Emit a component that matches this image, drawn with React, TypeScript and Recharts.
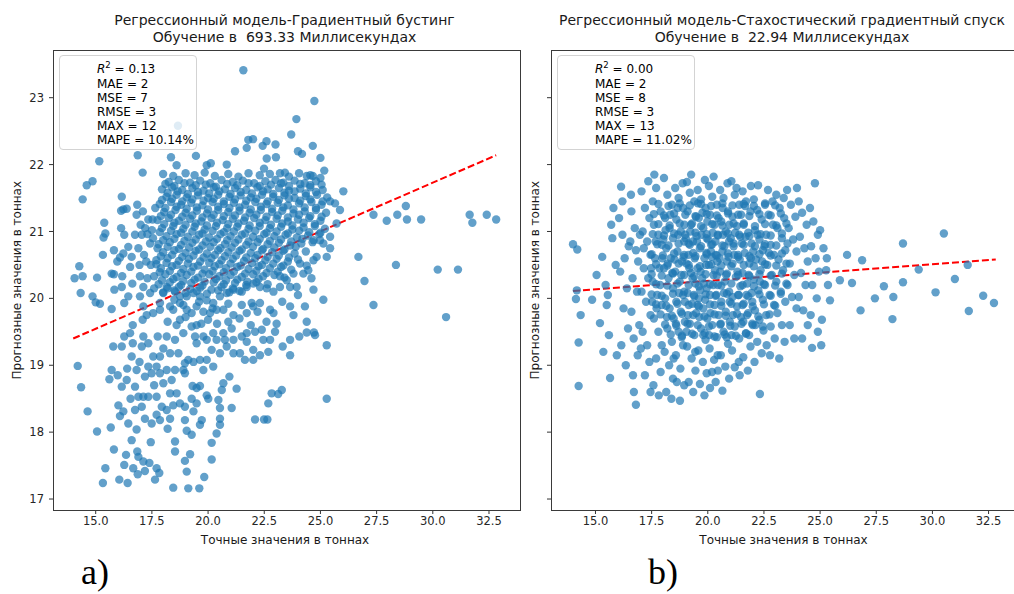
import React from "react"
import { ScatterChart, Scatter, XAxis, YAxis, ReferenceLine } from "recharts"

// axis ticks shared by both panels
const xTicks = [15, 17.5, 20, 22.5, 25, 27.5, 30, 32.5]
const yTicks = [17, 18, 19, 20, 21, 22, 23]

// gradient boosting: [true value, predicted value]
const gbTop = [
  [21.57, 23.41], [24.73, 22.95], [23.93, 22.68], [18.66, 22.58], [15.16, 22.05], [16.87, 22.14], [17.09, 21.88],
  [18.35, 22.11], [19.46, 22.13], [18.6, 21.99], [19.94, 21.99], [20.12, 22.02], [20.83, 22.0], [21.72, 22.25],
  [21.79, 22.37], [22.43, 22.28], [22.61, 22.09], [23.02, 22.11], [22.49, 21.94], [24.18, 22.16], [24.66, 22.28],
  [25.17, 21.91], [23.2, 21.87], [23.42, 21.88], [24.39, 21.83], [24.66, 21.83], [14.86, 21.75], [14.6, 21.69],
  [14.42, 21.48], [16.16, 21.52], [26.02, 21.6], [22.0, 22.38], [23.0, 22.3], [24.0, 22.2], [22.6, 22.35],
  [23.7, 22.45], [21.2, 22.2], [25.0, 22.1],
]

const gbLeftSide = [
  [15.38, 21.13], [15.43, 20.97], [15.35, 20.91], [15.32, 20.65], [15.81, 20.72], [16.08, 20.61], [14.27, 20.48],
  [14.06, 20.3], [14.42, 20.33], [14.33, 20.08], [14.86, 20.03], [15.06, 20.31], [15.0, 19.94], [15.19, 19.92],
  [15.71, 19.84], [15.83, 20.13], [15.71, 20.37], [16.13, 21.31], [16.23, 21.33], [16.38, 21.34], [16.82, 21.25],
  [17.34, 21.18], [17.53, 21.18], [16.13, 21.05], [16.27, 20.95], [16.75, 20.95], [17.05, 20.95], [17.3, 20.96],
  [17.42, 20.82], [16.45, 20.77], [16.23, 20.67], [16.6, 20.62], [15.96, 20.55], [15.81, 20.36], [16.18, 20.33],
  [16.53, 20.47], [16.63, 20.22], [16.27, 19.93], [16.45, 20.03], [16.16, 20.17], [16.97, 20.33], [16.97, 20.03],
  [17.12, 20.17], [17.42, 20.08], [17.12, 19.88], [17.27, 19.75], [17.56, 19.78], [17.86, 19.83], [17.86, 19.93],
  [17.2, 21.05], [17.55, 20.9], [17.15, 20.65], [17.45, 20.5], [17.3, 20.3], [17.6, 20.15], [16.9, 20.75],
  [17.0, 21.1], [17.65, 21.35], [16.95, 20.5], [17.25, 20.55], [17.5, 21.02], [16.85, 21.4], [17.1, 21.3],
]

const gbLowerLobe = [
  [14.2, 18.99], [14.35, 18.67], [14.64, 18.31], [15.06, 18.01], [15.67, 18.07], [15.81, 17.74], [15.43, 17.46],
  [15.32, 17.24], [16.05, 17.29], [16.42, 17.24], [16.35, 17.66], [16.85, 17.71], [16.9, 17.63], [16.27, 17.51],
  [16.67, 17.46], [17.12, 17.56], [17.39, 17.54], [17.19, 17.42], [17.71, 17.46], [17.83, 17.39], [17.64, 17.29],
  [16.87, 17.37], [15.78, 19.28], [16.16, 19.28], [16.27, 19.43], [16.53, 19.48], [16.65, 19.6], [17.09, 19.68],
  [17.12, 19.43], [16.65, 19.33], [16.6, 19.13], [17.05, 19.28], [17.34, 19.33], [17.56, 19.13], [17.76, 19.43],
  [18.16, 19.43], [18.53, 19.38], [15.71, 18.93], [15.61, 18.79], [15.98, 18.85], [16.16, 18.68], [16.38, 18.78],
  [16.82, 18.93], [16.75, 18.68], [16.9, 18.53], [17.12, 18.53], [17.34, 18.53], [17.71, 18.53], [17.05, 18.38],
  [16.75, 18.33], [16.23, 18.31], [16.01, 18.4], [16.08, 18.24], [16.45, 18.13], [16.82, 18.04], [17.19, 18.2],
  [17.49, 18.13], [17.71, 18.26], [17.94, 18.38], [18.16, 18.33], [18.45, 18.4], [18.75, 18.43], [18.6, 18.58],
  [18.31, 18.58], [18.01, 18.73], [17.86, 18.88], [17.71, 18.98], [18.16, 18.93], [18.38, 18.78], [18.53, 18.93],
  [18.9, 18.93], [18.97, 19.03], [18.68, 19.18], [18.31, 19.18], [18.01, 19.25], [17.86, 19.13], [17.34, 18.98],
  [17.19, 18.83], [17.49, 18.88], [17.86, 18.18], [18.31, 18.2], [18.53, 17.86], [18.53, 17.71], [18.45, 17.17],
  [19.12, 17.16], [19.61, 17.16], [19.05, 17.41], [19.83, 17.33], [19.2, 17.67], [18.97, 17.57], [20.16, 17.59],
  [20.16, 17.84], [19.27, 17.96], [19.05, 18.02], [19.64, 18.11], [19.72, 18.18], [18.97, 18.18], [19.35, 18.31],
  [19.49, 18.43], [19.27, 18.5], [18.97, 18.38], [19.94, 18.55], [19.64, 18.69], [19.31, 18.69], [19.49, 18.66],
  [20.01, 18.5], [20.46, 18.48], [20.53, 18.36], [20.53, 18.2], [20.38, 17.98], [21.05, 18.36], [20.53, 18.11],
  [20.61, 18.63], [20.95, 18.83], [21.27, 18.65], [20.68, 18.73], [20.23, 18.98], [19.79, 18.93], [19.94, 19.08],
  [19.64, 19.08], [19.35, 19.05], [19.12, 19.08], [18.97, 18.88], [22.68, 18.43], [22.83, 18.58], [23.28, 18.63],
  [23.12, 18.57], [22.09, 18.19], [22.49, 18.19], [22.64, 18.19], [25.28, 18.5],
  [16.4, 18.95], [16.95, 19.05], [17.6, 18.7], [16.55, 18.5], [18.2, 18.05], [16.6, 17.88], [17.45, 17.85],
]

const gbMiddle = [
  [19.49, 19.33], [19.42, 19.43], [19.79, 19.43], [20.23, 19.48], [19.94, 19.38], [20.38, 19.38], [20.16, 19.23],
  [20.53, 19.18], [20.83, 19.28], [21.13, 19.38], [21.13, 19.18], [20.75, 19.38], [21.5, 19.43], [21.72, 19.35],
  [22.01, 19.08], [21.64, 19.08], [21.42, 19.18], [22.01, 19.23], [22.31, 19.15], [22.46, 19.38], [22.76, 19.38],
  [22.68, 19.2], [22.39, 19.53], [22.09, 19.5], [21.72, 19.48], [21.05, 19.55], [20.68, 19.48], [18.9, 19.48],
  [18.75, 19.68], [19.27, 19.58], [19.49, 19.6], [25.28, 19.3], [23.65, 19.15], [23.32, 19.28], [23.65, 19.38],
  [24.06, 19.43], [24.39, 19.49], [24.71, 19.49], [24.76, 19.45], [24.39, 19.65], [23.8, 19.75], [23.65, 19.88],
  [24.31, 19.88], [24.69, 20.13], [25.13, 19.98], [22.98, 19.5], [22.91, 19.78], [22.76, 19.83], [22.31, 19.93],
  [21.94, 19.93], [22.01, 19.88], [21.72, 19.78], [21.13, 19.75], [20.68, 19.83], [20.38, 19.83], [20.09, 19.78],
  [19.79, 19.8], [19.49, 19.88], [19.27, 19.78], [19.05, 19.83], [18.75, 19.93], [18.45, 19.83], [18.31, 19.88],
  [18.01, 20.08], [18.16, 20.17], [18.53, 20.1], [18.75, 20.03], [19.05, 20.03], [19.35, 20.08], [19.64, 20.03],
  [19.94, 19.97], [20.23, 19.93], [20.53, 20.03], [20.83, 20.08], [21.13, 20.13], [21.5, 20.1], [21.72, 20.17],
  [22.01, 20.22], [22.31, 20.17], [22.61, 20.15], [22.91, 20.1], [23.2, 20.17], [23.65, 20.17], [23.94, 20.17],
  [23.5, 20.27], [23.2, 20.33], [23.8, 20.37], [24.24, 20.37], [24.46, 20.42], [24.39, 20.49], [24.09, 20.52],
  [24.69, 20.57], [24.83, 20.62], [25.28, 20.62], [25.43, 20.75], [25.13, 20.82], [24.98, 20.87], [25.43, 20.92],
  [25.72, 21.12], [25.87, 21.32], [25.65, 21.42], [25.43, 21.45],
  [18.2, 19.65], [18.6, 19.6], [19.0, 19.72], [19.7, 19.62], [20.0, 19.68], [20.4, 19.62], [20.9, 19.65],
  [21.4, 19.7], [21.9, 19.6], [18.9, 19.9], [19.6, 19.95], [20.2, 19.85], [20.9, 19.92], [21.5, 19.9],
  [22.2, 19.8], [18.5, 19.98], [22.6, 19.65], [23.3, 19.95], [24.0, 20.05], [23.05, 19.62], [24.6, 20.3],
]

const gbCore = [
  [18.0, 21.86], [18.45, 21.83], [19.0, 21.87], [19.4, 21.84], [19.85, 21.88], [20.3, 21.83], [20.9, 21.86], [21.35, 21.82],
  [21.8, 21.87], [22.3, 21.84], [22.75, 21.86], [23.6, 21.82], [24.05, 21.87], [24.55, 21.84], [25.0, 21.8],
  [18.25, 21.74], [18.7, 21.77], [19.2, 21.73], [19.65, 21.76], [20.1, 21.72], [20.6, 21.77], [21.1, 21.74], [21.55, 21.76],
  [22.05, 21.72], [22.55, 21.75], [23.0, 21.77], [23.35, 21.73], [23.85, 21.76], [24.3, 21.72], [24.8, 21.75],
  [17.95, 21.63], [18.4, 21.66], [18.85, 21.62], [19.3, 21.65], [19.8, 21.61], [20.25, 21.66], [20.75, 21.63], [21.2, 21.65],
  [21.7, 21.62], [22.2, 21.66], [22.65, 21.63], [23.15, 21.65], [23.6, 21.61], [24.1, 21.64], [24.55, 21.66], [25.1, 21.62],
  [18.15, 21.52], [18.6, 21.55], [19.05, 21.51], [19.55, 21.54], [20.0, 21.5], [20.45, 21.55], [20.95, 21.52], [21.45, 21.54],
  [21.9, 21.51], [22.4, 21.55], [22.9, 21.52], [23.4, 21.54], [23.85, 21.5], [24.35, 21.53], [24.85, 21.55], [25.3, 21.51],
  [17.85, 21.41], [18.35, 21.44], [18.8, 21.4], [19.25, 21.43], [19.75, 21.39], [20.2, 21.44], [20.7, 21.41], [21.15, 21.43],
  [21.65, 21.4], [22.1, 21.44], [22.6, 21.41], [23.1, 21.43], [23.55, 21.39], [24.05, 21.42], [24.6, 21.44], [25.05, 21.4],
  [18.05, 21.29], [18.55, 21.32], [19.0, 21.28], [19.5, 21.31], [19.95, 21.27], [20.45, 21.32], [20.9, 21.29], [21.4, 21.31],
  [21.85, 21.28], [22.35, 21.32], [22.85, 21.29], [23.3, 21.31], [23.8, 21.27], [24.3, 21.3], [24.8, 21.32], [25.25, 21.28],
  [17.75, 21.17], [18.25, 21.2], [18.7, 21.16], [19.2, 21.19], [19.7, 21.15], [20.15, 21.2], [20.65, 21.17], [21.1, 21.19],
  [21.6, 21.16], [22.05, 21.2], [22.55, 21.17], [23.05, 21.19], [23.55, 21.15], [24.0, 21.18], [24.5, 21.2], [25.0, 21.16],
  [17.95, 21.05], [18.45, 21.08], [18.9, 21.04], [19.4, 21.07], [19.85, 21.03], [20.35, 21.08], [20.85, 21.05], [21.3, 21.07],
  [21.8, 21.04], [22.3, 21.08], [22.75, 21.05], [23.25, 21.07], [23.75, 21.03], [24.25, 21.06], [24.75, 21.08], [25.2, 21.04],
  [18.15, 20.93], [18.6, 20.96], [19.1, 20.92], [19.6, 20.95], [20.05, 20.91], [20.55, 20.96], [21.0, 20.93], [21.5, 20.95],
  [22.0, 20.92], [22.5, 20.96], [22.95, 20.93], [23.45, 20.95], [23.95, 20.91], [24.45, 20.94], [24.95, 20.96],
  [17.8, 20.81], [18.3, 20.84], [18.8, 20.8], [19.3, 20.83], [19.75, 20.79], [20.25, 20.84], [20.75, 20.81], [21.2, 20.83],
  [21.7, 20.8], [22.2, 20.84], [22.65, 20.81], [23.15, 20.83], [23.65, 20.79], [24.15, 20.82], [24.65, 20.84],
  [18.0, 20.69], [18.5, 20.72], [19.0, 20.68], [19.45, 20.71], [19.95, 20.67], [20.45, 20.72], [20.9, 20.69], [21.4, 20.71],
  [21.9, 20.68], [22.4, 20.72], [22.85, 20.69], [23.35, 20.71], [23.85, 20.67], [24.35, 20.7],
  [17.7, 20.57], [18.2, 20.6], [18.7, 20.56], [19.15, 20.59], [19.65, 20.55], [20.15, 20.6], [20.6, 20.57], [21.1, 20.59],
  [21.6, 20.56], [22.1, 20.6], [22.55, 20.57], [23.05, 20.59], [23.55, 20.55], [24.0, 20.58],
  [17.9, 20.45], [18.4, 20.48], [18.9, 20.44], [19.35, 20.47], [19.85, 20.43], [20.3, 20.48], [20.8, 20.45], [21.3, 20.47],
  [21.8, 20.44], [22.25, 20.48], [22.75, 20.45], [23.25, 20.47], [23.7, 20.43],
  [17.6, 20.33], [18.1, 20.36], [18.6, 20.32], [19.05, 20.35], [19.55, 20.31], [20.05, 20.36], [20.5, 20.33], [21.0, 20.35],
  [21.5, 20.32], [22.0, 20.36], [22.45, 20.33], [22.95, 20.35], [23.4, 20.31],
  [17.8, 20.21], [18.3, 20.24], [18.8, 20.2], [19.25, 20.23], [19.75, 20.19], [20.25, 20.24], [20.7, 20.21], [21.2, 20.23],
  [21.7, 20.2], [22.15, 20.24], [22.65, 20.21],
  [18.0, 20.09], [18.5, 20.12], [19.0, 20.08], [19.5, 20.11], [19.95, 20.07], [20.45, 20.12], [20.95, 20.09], [21.4, 20.11],
]

// second, staggered layer of the solid upper core
const gbCoreFill = [
  [18.1, 21.71], [18.5, 21.68], [18.95, 21.72], [19.45, 21.69], [19.9, 21.7], [20.35, 21.67], [20.85, 21.71], [21.3, 21.69],
  [21.8, 21.72], [22.3, 21.68], [22.8, 21.7], [23.25, 21.72], [23.6, 21.68], [24.1, 21.71], [24.55, 21.69], [25.05, 21.7],
  [18.2, 21.58], [18.65, 21.6], [19.1, 21.56], [19.55, 21.59], [20.05, 21.57], [20.5, 21.6], [21.0, 21.56], [21.45, 21.59],
  [21.95, 21.57], [22.45, 21.6], [22.9, 21.56], [23.4, 21.58], [23.85, 21.6], [24.35, 21.57], [24.8, 21.59],
  [17.95, 21.47], [18.4, 21.49], [18.85, 21.45], [19.3, 21.48], [19.8, 21.46], [20.25, 21.49], [20.7, 21.45], [21.2, 21.48],
  [21.7, 21.46], [22.15, 21.49], [22.65, 21.45], [23.15, 21.47], [23.6, 21.49], [24.1, 21.46], [24.55, 21.48], [25.1, 21.45],
  [18.1, 21.35], [18.6, 21.37], [19.05, 21.34], [19.5, 21.36], [20.0, 21.33], [20.45, 21.37], [20.95, 21.35], [21.4, 21.36],
  [21.9, 21.33], [22.35, 21.37], [22.85, 21.34], [23.35, 21.36], [23.8, 21.33], [24.3, 21.36], [24.8, 21.35],
  [17.9, 21.23], [18.35, 21.25], [18.85, 21.22], [19.3, 21.24], [19.75, 21.21], [20.25, 21.25], [20.7, 21.23], [21.2, 21.24],
  [21.65, 21.21], [22.15, 21.25], [22.6, 21.22], [23.1, 21.24], [23.55, 21.21], [24.05, 21.25], [24.55, 21.23], [25.05, 21.22],
  [18.05, 21.11], [18.5, 21.13], [19.0, 21.1], [19.45, 21.12], [19.95, 21.09], [20.4, 21.13], [20.9, 21.11], [21.35, 21.12],
  [21.85, 21.09], [22.3, 21.13], [22.8, 21.1], [23.3, 21.12], [23.75, 21.09], [24.25, 21.13], [24.75, 21.11],
  [17.85, 20.99], [18.35, 21.01], [18.8, 20.98], [19.3, 21.0], [19.75, 20.97], [20.2, 21.01], [20.7, 20.99], [21.15, 21.0],
  [21.65, 20.97], [22.1, 21.01], [22.6, 20.98], [23.05, 21.0], [23.55, 20.97], [24.05, 21.01], [24.5, 20.99], [25.0, 20.98],
  [18.0, 20.87], [18.5, 20.89], [18.95, 20.86], [19.45, 20.88], [19.9, 20.85], [20.4, 20.89], [20.85, 20.87], [21.35, 20.88],
  [21.8, 20.85], [22.3, 20.89], [22.75, 20.86], [23.25, 20.88], [23.7, 20.85], [24.2, 20.89], [24.7, 20.87],
  [17.75, 20.75], [18.2, 20.77], [18.7, 20.74], [19.15, 20.76], [19.6, 20.73], [20.1, 20.77], [20.55, 20.75], [21.05, 20.76],
  [21.5, 20.73], [22.0, 20.77], [22.45, 20.74], [22.95, 20.76], [23.4, 20.73], [23.9, 20.77],
  [17.9, 20.63], [18.4, 20.65], [18.85, 20.62], [19.35, 20.64], [19.8, 20.61], [20.3, 20.65], [20.75, 20.63], [21.25, 20.64],
  [21.7, 20.61], [22.2, 20.65], [22.65, 20.62], [23.15, 20.64], [23.6, 20.61],
  [17.7, 20.51], [18.15, 20.53], [18.6, 20.5], [19.1, 20.52], [19.55, 20.49], [20.05, 20.53], [20.5, 20.51], [21.0, 20.52],
  [21.45, 20.49], [21.95, 20.53], [22.4, 20.5], [22.9, 20.52], [23.35, 20.49],
  [17.85, 20.39], [18.3, 20.41], [18.8, 20.38], [19.25, 20.4], [19.75, 20.37], [20.2, 20.41], [20.7, 20.39], [21.15, 20.4],
  [21.65, 20.37], [22.15, 20.41], [22.6, 20.38], [23.1, 20.4],
  [17.95, 20.27], [18.45, 20.29], [18.9, 20.26], [19.4, 20.28], [19.85, 20.25], [20.35, 20.29], [20.8, 20.27], [21.3, 20.28],
  [21.75, 20.25], [22.25, 20.29],
  [18.2, 20.15], [18.7, 20.17], [19.2, 20.14], [19.65, 20.16], [20.15, 20.13], [20.6, 20.17], [21.1, 20.15],
]

const gbTail = [
  [27.95, 21.16], [28.42, 21.25], [28.8, 21.38], [28.85, 21.18], [29.48, 21.18], [28.36, 20.5], [30.22, 20.43],
  [31.12, 20.43], [30.59, 19.72], [31.64, 21.25], [31.76, 21.13], [32.4, 21.25], [32.82, 21.18], [26.69, 20.62],
  [26.96, 20.26], [27.36, 19.9], [27.36, 21.25],
]

// stochastic gradient descent: [true value, predicted value]
const sgdLeftSide = [
  [14.0, 20.81], [14.19, 20.73], [14.17, 20.12], [14.13, 19.99], [14.34, 19.75], [14.25, 19.34], [14.25, 18.69],
  [14.85, 19.98], [15.2, 19.63], [15.05, 20.35], [15.3, 20.62], [15.45, 20.2], [15.6, 19.45], [15.65, 18.81],
  [15.5, 19.9], [15.75, 20.9], [15.8, 21.35], [15.35, 19.2], [15.9, 20.5], [15.95, 19.15], [15.7, 21.1], [15.55, 20.05],
  [16.14, 21.67], [16.05, 21.2], [16.2, 20.95], [16.3, 20.6], [16.1, 20.4], [16.4, 20.15], [16.25, 19.85], [16.45, 19.55],
  [16.15, 19.3], [16.35, 19.0], [16.2, 21.45], [16.48, 20.78],
  [16.67, 18.85], [16.71, 18.6], [16.8, 18.41], [16.6, 21.3], [16.75, 21.05], [16.55, 20.85], [16.9, 20.55], [16.65, 20.3],
  [16.85, 20.1], [16.6, 19.8], [16.95, 19.6], [16.7, 19.4], [16.88, 19.15], [16.58, 21.55], [16.8, 20.72], [16.98, 20.95],
]

const sgdBlob = [
  [17.05, 21.6], [17.2, 21.35], [17.4, 21.2], [17.1, 21.0], [17.3, 20.85], [17.45, 20.65], [17.15, 20.45], [17.35, 20.3],
  [17.05, 20.1], [17.25, 19.95], [17.45, 19.75], [17.1, 19.5], [17.3, 19.3], [17.4, 19.05], [17.2, 18.85], [17.45, 18.6],
  [17.35, 21.75], [17.15, 20.75], [17.48, 20.45], [17.02, 19.25],
  [17.55, 21.45], [17.7, 21.65], [17.9, 21.3], [17.6, 21.1], [17.8, 20.95], [17.95, 20.8], [17.65, 20.6], [17.85, 20.45],
  [17.55, 20.25], [17.75, 20.05], [17.95, 19.9], [17.6, 19.7], [17.8, 19.5], [17.95, 19.3], [17.7, 19.1], [17.9, 18.9],
  [17.58, 18.7], [17.82, 18.55], [17.68, 20.85], [17.88, 20.2], [17.52, 19.95], [17.98, 20.6], [17.72, 19.85], [17.62, 21.85],
  [18.05, 21.8], [18.2, 21.55], [18.4, 21.4], [18.1, 21.2], [18.3, 21.05], [18.45, 20.9], [18.15, 20.75], [18.35, 20.6],
  [18.05, 20.45], [18.25, 20.3], [18.45, 20.15], [18.1, 20.0], [18.3, 19.85], [18.48, 19.7], [18.2, 19.55], [18.4, 19.35],
  [18.08, 19.2], [18.28, 19.0], [18.45, 18.8], [18.15, 18.6], [18.38, 18.5], [18.22, 20.52], [18.42, 20.38], [18.02, 20.88],
  [18.33, 21.25], [18.18, 19.72], [18.48, 19.1], [18.12, 21.02],
  [18.55, 21.65], [18.7, 21.5], [18.9, 21.35], [18.6, 21.18], [18.8, 21.0], [18.95, 20.85], [18.65, 20.7], [18.85, 20.55],
  [18.55, 20.4], [18.75, 20.25], [18.95, 20.1], [18.6, 19.95], [18.8, 19.8], [18.98, 19.65], [18.7, 19.5], [18.9, 19.3],
  [18.58, 19.15], [18.78, 18.95], [18.76, 18.47], [18.95, 18.7], [18.62, 18.75], [18.88, 21.72], [18.68, 20.95], [18.92, 20.62],
  [18.52, 20.58], [18.82, 20.35], [18.72, 20.08], [18.98, 19.95], [18.58, 19.62], [18.84, 19.42], [18.66, 21.35], [18.96, 21.1],
  [19.07, 21.74], [19.2, 21.58], [19.4, 21.45], [19.1, 21.3], [19.3, 21.12], [19.45, 20.98], [19.15, 20.82], [19.35, 20.68],
  [19.05, 20.52], [19.25, 20.38], [19.45, 20.22], [19.1, 20.08], [19.3, 19.92], [19.48, 19.78], [19.2, 19.62], [19.4, 19.45],
  [19.08, 19.28], [19.28, 19.1], [19.45, 18.92], [19.15, 18.75], [19.35, 18.6], [19.22, 21.0], [19.42, 20.6], [19.02, 20.9],
  [19.32, 20.3], [19.12, 19.75], [19.38, 20.05], [19.18, 20.45], [19.48, 21.22], [19.26, 21.85], [19.05, 19.5], [19.44, 19.2],
  [19.14, 20.65], [19.34, 20.85],
  [19.87, 21.77], [19.55, 21.62], [19.7, 21.48], [19.9, 21.35], [19.6, 21.2], [19.8, 21.05], [19.95, 20.9], [19.65, 20.75],
  [19.85, 20.6], [19.55, 20.45], [19.75, 20.3], [19.95, 20.15], [19.6, 20.0], [19.8, 19.85], [19.98, 19.7], [19.7, 19.55],
  [19.9, 19.38], [19.58, 19.22], [19.78, 19.05], [19.95, 18.88], [19.65, 18.72], [19.85, 18.55], [19.72, 20.95], [19.92, 20.5],
  [19.52, 20.85], [19.82, 20.22], [19.62, 19.72], [19.88, 19.98], [19.68, 20.4], [19.98, 21.15], [19.76, 21.28], [19.56, 21.42],
  [19.94, 20.68], [19.66, 20.12], [19.86, 19.48], [19.54, 19.9],
  [20.1, 18.66], [20.19, 18.9], [20.05, 21.68], [20.2, 21.52], [20.4, 21.4], [20.1, 21.25], [20.3, 21.1], [20.45, 20.95],
  [20.15, 20.8], [20.35, 20.65], [20.05, 20.5], [20.25, 20.35], [20.45, 20.2], [20.1, 20.05], [20.3, 19.9], [20.48, 19.75],
  [20.2, 19.6], [20.4, 19.42], [20.08, 19.25], [20.28, 19.08], [20.45, 18.92], [20.35, 18.75], [20.22, 20.98], [20.42, 20.55],
  [20.02, 20.88], [20.32, 20.42], [20.12, 19.78], [20.38, 20.05], [20.18, 20.62], [20.48, 21.2], [20.26, 21.82], [20.06, 19.45],
  [20.44, 19.15], [20.14, 20.7], [20.34, 20.85], [20.24, 20.2],
  [20.55, 21.62], [20.7, 21.5], [20.9, 21.3], [20.6, 21.15], [20.8, 21.0], [20.95, 20.85], [20.65, 20.7], [20.85, 20.55],
  [20.55, 20.4], [20.75, 20.25], [20.95, 20.1], [20.6, 19.95], [20.8, 19.8], [20.98, 19.65], [20.7, 19.5], [20.9, 19.32],
  [20.58, 19.15], [20.78, 18.98], [20.95, 18.8], [20.65, 18.62], [20.88, 21.72], [20.68, 20.95], [20.92, 20.62], [20.52, 20.6],
  [20.82, 20.35], [20.72, 20.08], [20.98, 19.95], [20.58, 19.62], [20.84, 19.42], [20.66, 21.35], [20.96, 21.1], [20.74, 20.78],
  [21.05, 21.75], [21.2, 21.55], [21.4, 21.4], [21.1, 21.22], [21.3, 21.08], [21.45, 20.92], [21.15, 20.78], [21.35, 20.62],
  [21.05, 20.48], [21.25, 20.32], [21.45, 20.18], [21.1, 20.02], [21.3, 19.88], [21.48, 19.72], [21.2, 19.58], [21.4, 19.4],
  [21.08, 19.22], [21.2, 18.97], [21.38, 19.05], [21.42, 18.85], [21.22, 20.98], [21.42, 20.58], [21.02, 20.9], [21.32, 20.4],
  [21.12, 19.75], [21.38, 20.05], [21.18, 20.65], [21.48, 21.25], [21.28, 21.65], [21.06, 19.45],
  [21.55, 21.6], [21.7, 21.45], [21.9, 21.3], [21.6, 21.12], [21.8, 20.98], [21.95, 20.82], [21.65, 20.68], [21.85, 20.52],
  [21.55, 20.38], [21.75, 20.22], [21.95, 20.08], [21.6, 19.92], [21.8, 19.78], [21.98, 19.62], [21.7, 19.48], [21.9, 19.28],
  [21.58, 19.12], [21.78, 18.92], [21.92, 21.68], [21.68, 20.92], [21.92, 20.6], [21.52, 20.82], [21.82, 20.35], [21.72, 20.05],
  [21.98, 19.95], [21.58, 19.65], [21.84, 19.45], [21.66, 21.38],
  [22.24, 21.69], [22.05, 21.48], [22.2, 21.32], [22.4, 21.18], [22.1, 21.02], [22.3, 20.88], [22.45, 20.72], [22.15, 20.58],
  [22.35, 20.42], [22.05, 20.28], [22.25, 20.12], [22.45, 19.98], [22.1, 19.82], [22.3, 19.68], [22.48, 19.52], [22.2, 19.35],
  [22.4, 19.18], [22.32, 18.57], [22.08, 19.05], [22.22, 20.95], [22.42, 20.55], [22.02, 20.7], [22.32, 20.25], [22.12, 19.6],
  [22.68, 21.62], [22.55, 21.4], [22.7, 21.25], [22.9, 21.1], [22.6, 20.95], [22.8, 20.8], [22.95, 20.65], [22.65, 20.5],
  [22.85, 20.35], [22.55, 20.2], [22.75, 20.05], [22.95, 19.9], [22.6, 19.75], [22.8, 19.58], [22.98, 19.4], [22.77, 19.15],
  [22.62, 19.3], [22.88, 21.45], [22.72, 20.68], [22.52, 20.78],
]

// second, staggered layer of the solid centre of the blob
const sgdBlobFill = [
  [17.8, 21.41], [18.25, 21.38], [18.75, 21.42], [19.2, 21.39], [19.7, 21.41], [20.15, 21.38], [20.65, 21.42], [21.1, 21.39],
  [21.6, 21.41], [22.05, 21.38], [22.55, 21.42], [23.0, 21.39],
  [17.6, 21.26], [18.05, 21.24], [18.5, 21.27], [19.0, 21.25], [19.45, 21.23], [19.95, 21.26], [20.4, 21.24], [20.9, 21.27],
  [21.35, 21.25], [21.85, 21.23], [22.3, 21.26], [22.8, 21.24], [23.25, 21.27],
  [17.8, 21.11], [18.3, 21.09], [18.75, 21.12], [19.25, 21.1], [19.7, 21.08], [20.2, 21.11], [20.65, 21.09], [21.15, 21.12],
  [21.6, 21.1], [22.1, 21.08], [22.55, 21.11], [23.05, 21.09], [23.5, 21.12],
  [17.55, 20.96], [18.05, 20.94], [18.5, 20.97], [19.0, 20.95], [19.5, 20.93], [19.95, 20.96], [20.45, 20.94], [20.9, 20.97],
  [21.4, 20.95], [21.85, 20.93], [22.35, 20.96], [22.8, 20.94], [23.3, 20.97],
  [17.75, 20.81], [18.25, 20.79], [18.7, 20.82], [19.2, 20.8], [19.7, 20.78], [20.2, 20.81], [20.65, 20.79], [21.15, 20.82],
  [21.6, 20.8], [22.1, 20.78], [22.55, 20.81], [23.05, 20.79], [23.55, 20.82],
  [17.5, 20.66], [18.0, 20.64], [18.5, 20.67], [18.95, 20.65], [19.45, 20.63], [19.95, 20.66], [20.4, 20.64], [20.9, 20.67],
  [21.35, 20.65], [21.85, 20.63], [22.3, 20.66], [22.8, 20.64], [23.3, 20.67],
  [17.7, 20.51], [18.2, 20.49], [18.7, 20.52], [19.15, 20.5], [19.65, 20.48], [20.15, 20.51], [20.6, 20.49], [21.1, 20.52],
  [21.6, 20.5], [22.05, 20.48], [22.55, 20.51], [23.05, 20.49], [23.5, 20.52],
  [17.5, 20.36], [17.95, 20.34], [18.45, 20.37], [18.95, 20.35], [19.4, 20.33], [19.9, 20.36], [20.4, 20.34], [20.85, 20.37],
  [21.35, 20.35], [21.85, 20.33], [22.3, 20.36], [22.8, 20.34], [23.3, 20.37],
  [17.7, 20.21], [18.2, 20.19], [18.65, 20.22], [19.15, 20.2], [19.6, 20.18], [20.1, 20.21], [20.6, 20.19], [21.05, 20.22],
  [21.55, 20.2], [22.05, 20.18], [22.5, 20.21], [23.0, 20.19], [23.5, 20.22],
  [17.5, 20.06], [17.95, 20.04], [18.45, 20.07], [18.9, 20.05], [19.4, 20.03], [19.9, 20.06], [20.35, 20.04], [20.85, 20.07],
  [21.35, 20.05], [21.8, 20.03], [22.3, 20.06], [22.8, 20.04], [23.25, 20.07],
  [17.7, 19.91], [18.15, 19.89], [18.65, 19.92], [19.15, 19.9], [19.6, 19.88], [20.1, 19.91], [20.6, 19.89], [21.05, 19.92],
  [21.55, 19.9], [22.0, 19.88], [22.5, 19.91], [23.0, 19.89],
  [17.9, 19.76], [18.4, 19.74], [18.85, 19.77], [19.35, 19.75], [19.85, 19.73], [20.3, 19.76], [20.8, 19.74], [21.3, 19.77],
  [21.75, 19.75], [22.25, 19.73], [22.75, 19.76],
  [18.1, 19.61], [18.6, 19.59], [19.1, 19.62], [19.55, 19.6], [20.05, 19.58], [20.55, 19.61], [21.0, 19.59], [21.5, 19.62],
  [22.0, 19.6], [22.45, 19.58],
  [18.35, 19.46], [18.85, 19.44], [19.3, 19.47], [19.8, 19.45], [20.3, 19.43], [20.75, 19.46], [21.25, 19.44], [21.7, 19.47],
]

const sgdRightSide = [
  [23.05, 21.55], [23.2, 21.35], [23.4, 21.2], [23.1, 21.05], [23.3, 20.9], [23.45, 20.72], [23.15, 20.58], [23.35, 20.42],
  [23.05, 20.25], [23.25, 20.1], [23.45, 19.95], [23.1, 19.78], [23.3, 19.6], [23.42, 19.35], [23.18, 19.1], [23.38, 21.5],
  [23.53, 21.62], [23.97, 21.65], [23.7, 21.4], [23.9, 21.22], [23.6, 21.05], [23.8, 20.88], [23.95, 20.7], [23.65, 20.52],
  [23.85, 20.35], [23.55, 20.2], [23.75, 20.02], [23.95, 19.85], [23.65, 19.6], [23.85, 19.4],
  [24.05, 21.45], [24.2, 21.28], [24.4, 21.1], [24.1, 20.92], [24.3, 20.75], [24.45, 20.55], [24.15, 20.38], [24.35, 20.2],
  [24.05, 20.02], [24.25, 19.82], [24.45, 19.6], [24.2, 19.4],
  [24.77, 21.72], [24.55, 21.35], [24.7, 21.15], [24.9, 20.95], [24.6, 20.78], [24.8, 20.6], [24.95, 20.4], [24.64, 19.26],
  [24.65, 20.2], [24.85, 20.0], [24.58, 19.75], [24.9, 19.5],
  [25.0, 21.02], [25.27, 20.42], [25.44, 19.97], [25.08, 19.68], [25.15, 20.75], [25.35, 20.2], [25.05, 19.3], [25.3, 20.6],
]

const sgdTail = [
  [25.88, 20.27], [26.2, 20.65], [26.87, 20.57], [26.42, 20.23], [27.44, 20.0], [26.8, 19.82], [27.84, 20.18],
  [28.26, 20.02], [28.22, 19.69], [28.69, 20.82], [28.69, 20.24], [29.39, 20.43], [30.14, 20.09], [30.51, 20.97],
  [31.0, 20.29], [31.57, 20.5], [31.62, 19.81], [32.26, 20.04], [32.74, 19.93],
]

// fitted regression lines (ends)
const gbFit = [{ x: 14.0, y: 19.4 }, { x: 32.82, y: 22.14 }]
const sgdFit = [{ x: 14.0, y: 20.11 }, { x: 32.82, y: 20.58 }]

const gbMetrics = ["0.13", "2", "7", "3", "12", "10.14%"]
const sgdMetrics = ["0.00", "2", "8", "3", "13", "11.02%"]

const toPts = (rows: number[][]) => rows.map(([x, y]) => ({ x, y }))
const gbData = toPts([...gbTop, ...gbLeftSide, ...gbLowerLobe, ...gbMiddle, ...gbCore, ...gbCoreFill, ...gbTail])
const sgdData = toPts([...sgdLeftSide, ...sgdBlob, ...sgdBlobFill, ...sgdRightSide, ...sgdTail])

const FONT = "'DejaVu Sans', sans-serif"
const tickStyle = { fontSize: 11.5, fill: "#262626", fontFamily: FONT }

function Dot(props: any) {
  const { cx, cy } = props
  if (cx == null || cy == null) return null
  return <circle cx={cx} cy={cy} r={4.2} fill="#1f77b4" fillOpacity={0.7} />
}

function MetricsBox({ left, textLeft, values }: { left: number; textLeft: number; values: string[] }) {
  const names = ["MAE", "MSE", "RMSE", "MAX", "MAPE"]
  return (
    <>
      <div style={{ position: "absolute", left, top: 55, width: 138, height: 95, background: "rgba(255,255,255,0.8)", border: "1px solid #d3d3d3", borderRadius: 4, boxSizing: "border-box" }} />
      <div style={{ position: "absolute", left: textLeft, top: 62, fontSize: 12, lineHeight: "14px", fontFamily: FONT, color: "#000", whiteSpace: "nowrap" }}>
        <div>
          <i>R</i>
          <span style={{ fontSize: 8.5, position: "relative", top: -5 }}>2</span> = {values[0]}
        </div>
        {names.map((n, i) => (
          <div key={n}>{n} = {values[i + 1]}</div>
        ))}
      </div>
    </>
  )
}

function Panel(props: {
  chartLeft: number
  chartWidth: number
  marginLeft: number
  plotLeft: number
  plotWidth: number
  xDomain: [number, number]
  data: { x: number; y: number }[]
  fit: { x: number; y: number }[]
  showYLabels: boolean
}) {
  const { chartLeft, chartWidth, marginLeft, plotLeft, plotWidth, xDomain, data, fit, showYLabels } = props
  return (
    <>
      <div style={{ position: "absolute", left: chartLeft, top: 0 }}>
        <ScatterChart width={chartWidth} height={594} margin={{ top: 50, right: 10, bottom: 54, left: marginLeft }}>
          <XAxis
            type="number"
            dataKey="x"
            domain={xDomain}
            ticks={xTicks}
            allowDataOverflow
            height={30}
            axisLine={false}
            tickLine={{ stroke: "#333" }}
            tickSize={4}
            tickMargin={3}
            tick={tickStyle}
            tickFormatter={(v: number) => v.toFixed(1)}
          />
          <YAxis
            type="number"
            dataKey="y"
            domain={[16.836, 23.713]}
            ticks={yTicks}
            allowDataOverflow
            width={40}
            axisLine={false}
            tickLine={{ stroke: "#333" }}
            tickSize={4}
            tickMargin={5}
            tick={tickStyle}
            tickFormatter={(v: number) => (showYLabels ? String(v) : "")}
          />
          <Scatter data={data} shape={<Dot />} isAnimationActive={false} />
          <ReferenceLine segment={fit} stroke="#ff0000" strokeWidth={2} strokeDasharray="7 3" />
        </ScatterChart>
      </div>
      <div style={{ position: "absolute", left: plotLeft, top: 50, width: plotWidth + 1, height: 461, border: "1px solid #3a3a3a", boxSizing: "border-box", pointerEvents: "none" }} />
    </>
  )
}

function CenteredText({ cx, cy, size, children, rotate }: { cx: number; cy: number; size: number; children: React.ReactNode; rotate?: boolean }) {
  const w = 480
  const h = size * 1.2
  return (
    <div
      style={{
        position: "absolute",
        left: cx - w / 2,
        top: cy - h / 2,
        width: w,
        height: h,
        lineHeight: `${h}px`,
        fontSize: size,
        fontFamily: FONT,
        color: "#1a1a1a",
        textAlign: "center",
        whiteSpace: "pre",
        transform: rotate ? "rotate(-90deg)" : undefined,
      }}
    >
      {children}
    </div>
  )
}

export default function App() {
  return (
    <div style={{ position: "fixed", left: 0, top: 0, width: 1014, height: 594, overflow: "hidden", background: "#fff", fontFamily: FONT }}>
      <Panel chartLeft={0} chartWidth={530} marginLeft={13} plotLeft={53} plotWidth={467} xDomain={[13.1, 33.88]} data={gbData} fit={gbFit} showYLabels />
      <Panel chartLeft={511} chartWidth={517} marginLeft={0} plotLeft={551} plotWidth={467} xDomain={[13.02, 33.81]} data={sgdData} fit={sgdFit} showYLabels={false} />

      <MetricsBox left={59} textLeft={97} values={gbMetrics} />
      <MetricsBox left={557} textLeft={595} values={sgdMetrics} />

      <CenteredText cx={284.5} cy={20} size={14}>Регрессионный модель-Градиентный бустинг</CenteredText>
      <CenteredText cx={284.5} cy={37} size={14}>Обучение в  693.33 Миллисекундах</CenteredText>
      <CenteredText cx={782} cy={20} size={14}>Регрессионный модель-Стахостический градиентный спуск</CenteredText>
      <CenteredText cx={782} cy={37} size={14}>Обучение в  22.94 Миллисекундах</CenteredText>

      <CenteredText cx={285} cy={540} size={12}>Точные значения в тоннах</CenteredText>
      <CenteredText cx={783.5} cy={540} size={12}>Точные значения в тоннах</CenteredText>
      <CenteredText cx={17} cy={280} size={12} rotate>Прогнозные значения в тоннах</CenteredText>
      <CenteredText cx={535} cy={280} size={12} rotate>Прогнозные значения в тоннах</CenteredText>

      <div style={{ position: "absolute", left: 81, top: 554, fontSize: 36, lineHeight: "36px", fontFamily: "'Liberation Serif', serif", color: "#000" }}>a)</div>
      <div style={{ position: "absolute", left: 648, top: 554, fontSize: 36, lineHeight: "36px", fontFamily: "'Liberation Serif', serif", color: "#000" }}>b)</div>
    </div>
  )
}
